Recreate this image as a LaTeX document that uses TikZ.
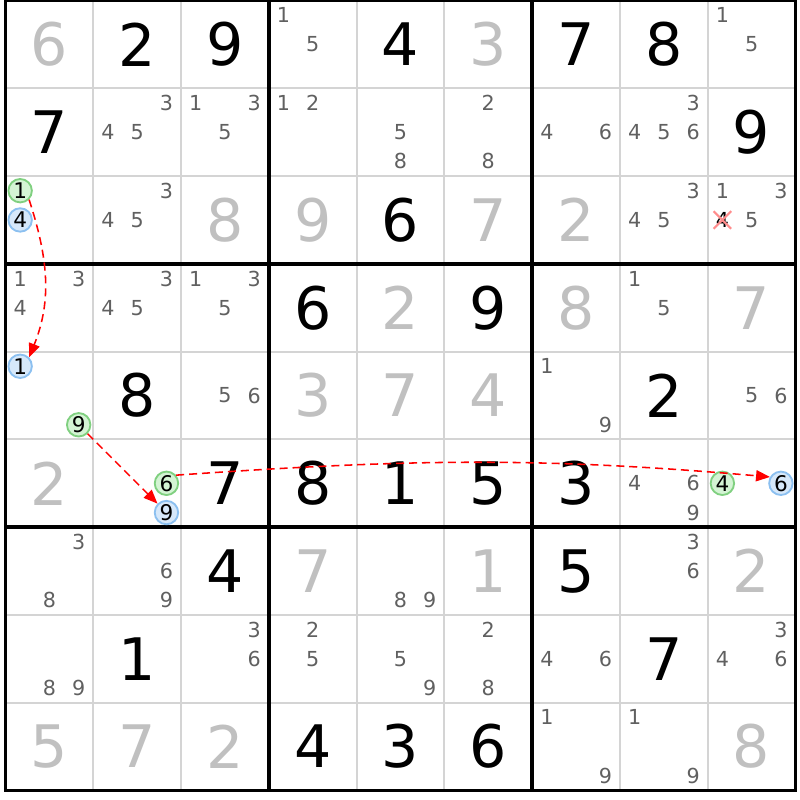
\documentclass[tikz,border=0pt]{standalone}
\usepackage{fontspec}
\setmainfont{DejaVu Sans}
\usetikzlibrary{arrows.meta,shapes.misc}
\definecolor{givengray}{HTML}{C0C0C0}
\definecolor{candgray}{HTML}{606060}
\definecolor{gridgray}{HTML}{D4D4D4}
\definecolor{ongreen}{HTML}{80D080}
\definecolor{ongreenbg}{HTML}{D4F4D4}
\definecolor{offblue}{HTML}{8CC0F0}
\definecolor{offbluebg}{HTML}{D6E8FA}
\begin{document}
\begin{tikzpicture}[
given/.style={font=\fontsize{19}{19}\selectfont, inner sep=0pt, text=givengray},
solved/.style={given, text=black},
cand/.style={font=\fontsize{6.7}{7}\selectfont, inner sep=0pt, text=candgray},
greencand/.style={cand, circle, font=\fontsize{7}{7}\selectfont, text=black, minimum size=7.6pt, line width=0.6pt, draw=ongreen, fill=ongreenbg},
bluecand/.style={greencand, draw=offblue, fill=offbluebg},
removed/.style={cand, text=black, cross out, draw=red!45, minimum size=5pt, line width=0.7pt},
link/.style={red, dash pattern=on 2.6pt off 1.6pt, line width=0.5pt, -{Triangle[length=4.5pt,width=3.6pt]}},
cellline/.style={gridgray, line width=0.6pt},
boxline/.style={black, line width=1.2pt}]
\useasboundingbox (-0.063,-0.108) rectangle (9.049,9.006);
\foreach \i in {1,...,8} {
    \draw[cellline] (\i,0) -- (\i,9);
    \draw[cellline] (0,\i) -- (9,\i);
}
\foreach \i in {3,6} {
    \draw[boxline] (\i,0) -- (\i,9);
    \draw[boxline] (0,\i) -- (9,\i);
}
\draw[boxline] (0,0) rectangle (9,9);
\foreach \r/\c/\d in {1/1/6, 1/6/3, 3/3/8, 3/4/9, 3/6/7, 3/7/2, 4/5/2, 4/7/8, 4/9/7, 5/4/3,
    5/5/7, 5/6/4, 6/1/2, 7/4/7, 7/6/1, 7/9/2, 9/1/5, 9/2/7, 9/3/2, 9/9/8}
    \node[given] (cell\r\c) at (\c-0.5,9.5-\r) {\d};
\foreach \r/\c/\d in {1/2/2, 1/3/9, 1/5/4, 1/7/7, 1/8/8, 2/1/7, 2/9/9, 3/5/6, 4/4/6, 4/6/9,
    5/2/8, 5/8/2, 6/3/7, 6/4/8, 6/5/1, 6/6/5, 6/7/3, 7/3/4, 7/7/5, 8/2/1, 8/8/7, 9/4/4, 9/5/3, 9/6/6}
    \node[solved] (cell\r\c) at (\c-0.5,9.5-\r) {\d};
\foreach \r/\c/\ds in {1/4/{1,5}, 1/9/{1,5},
    2/2/{3,4,5}, 2/3/{1,3,5}, 2/4/{1,2}, 2/5/{5,8}, 2/6/{2,8}, 2/7/{4,6}, 2/8/{3,4,5,6},
    3/2/{3,4,5}, 3/8/{3,4,5}, 3/9/{1,3,5},
    4/1/{1,3,4}, 4/2/{3,4,5}, 4/3/{1,3,5}, 4/8/{1,5},
    5/3/{5,6}, 5/7/{1,9}, 5/9/{5,6}, 6/8/{4,6,9},
    7/1/{3,8}, 7/2/{6,9}, 7/5/{8,9}, 7/8/{3,6},
    8/1/{8,9}, 8/3/{3,6}, 8/4/{2,5}, 8/5/{5,9}, 8/6/{2,8}, 8/7/{4,6}, 8/9/{3,4,6},
    9/7/{1,9}, 9/8/{1,9}}
    \foreach \d in \ds
        \node[cand] (c\r\c-\d) at ({\c-1+(2*mod(\d-1,3)+1)/6},{10-\r-(2*div(\d-1,3)+1)/6}) {\d};
\foreach \r/\c/\d/\s in {3/1/1/greencand, 3/1/4/bluecand, 5/1/1/bluecand, 5/1/9/greencand,
    6/2/6/greencand, 6/2/9/bluecand, 6/9/4/greencand, 6/9/6/bluecand}
    \node[\s] (c\r\c-\d) at ({\c-1+(2*mod(\d-1,3)+1)/6},{10-\r-(2*div(\d-1,3)+1)/6}) {\d};
\node[removed] (c39-4) at ({8+1/6},6.5) {4};
\draw[link] (c31-1.-45) to[out=-72,in=68] (c51-1.45);
\draw[link] (c51-9) -- (c62-9);
\draw[link] (c62-6.40) to[out=4,in=175] (c69-6.150);
\end{tikzpicture}
\end{document}
